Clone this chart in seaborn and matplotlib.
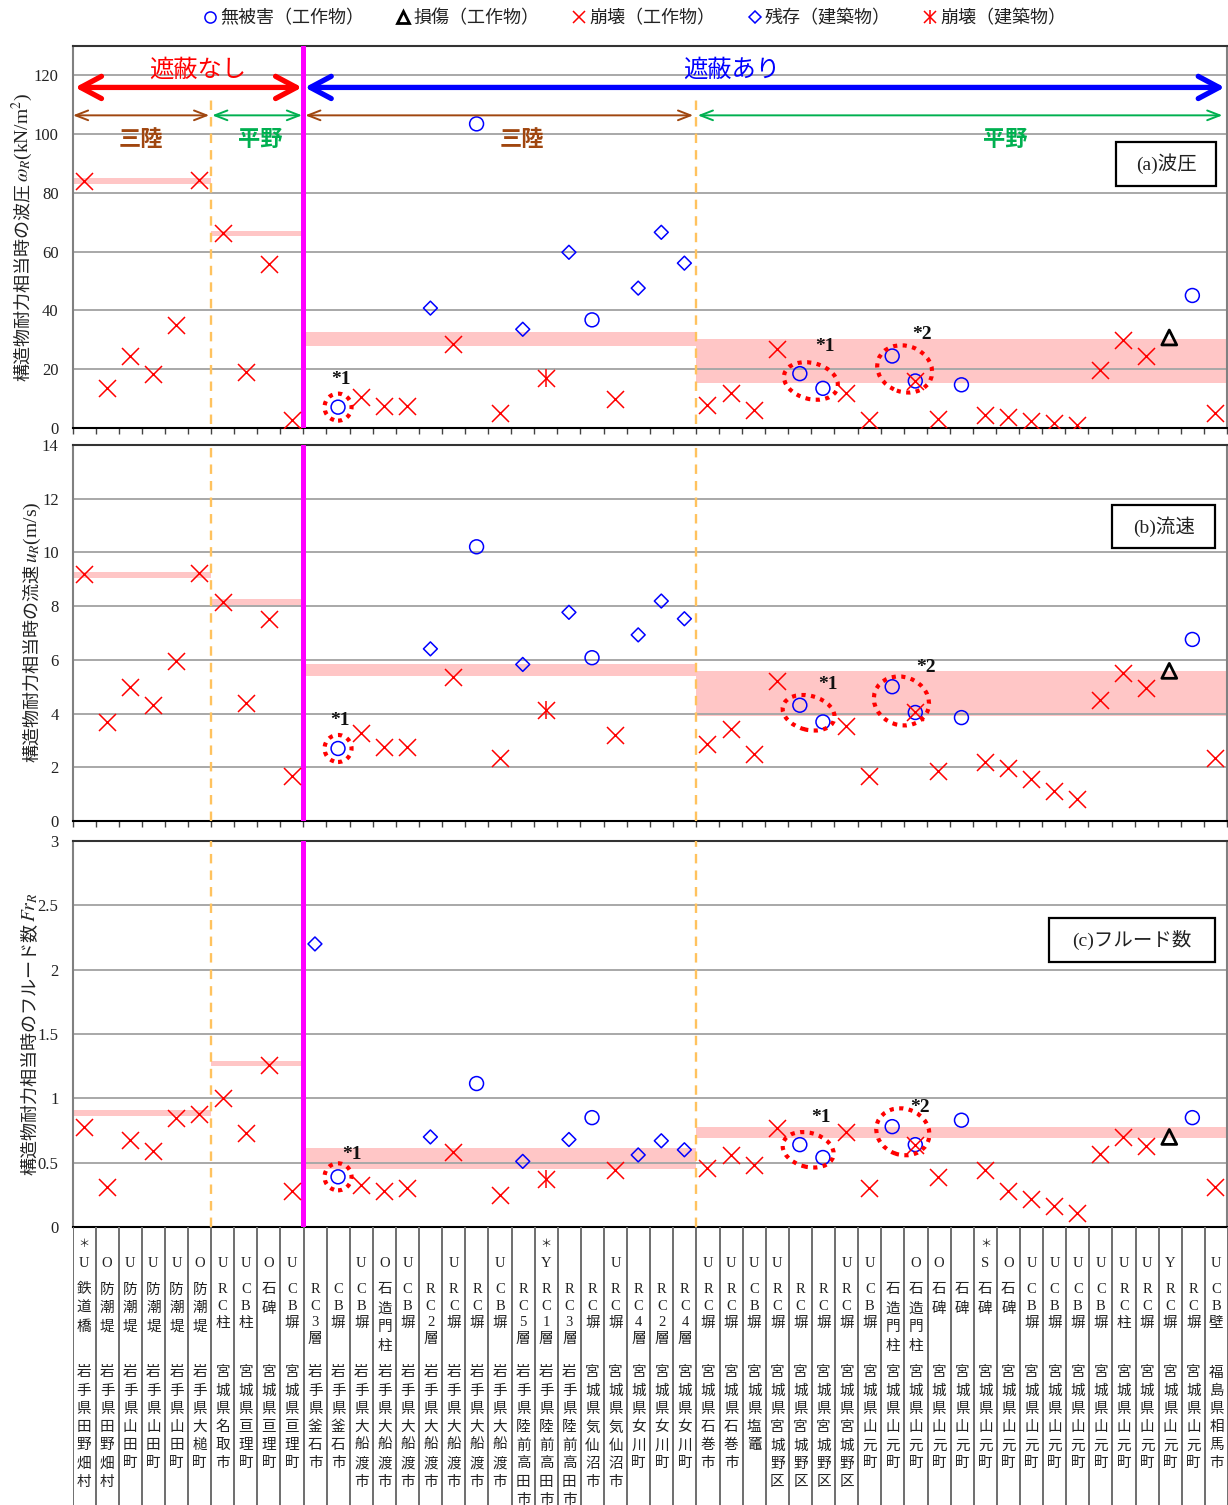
import numpy as np
import pandas as pd
import matplotlib
matplotlib.use("Agg")
import matplotlib.pyplot as plt
import matplotlib.transforms as mtransforms
from matplotlib.patches import Ellipse, Rectangle
from matplotlib.lines import Line2D
import seaborn as sns

# ---------------- data ----------------
positions = list(range(1, 51))

# o: 無被害（工作物）, ^: 損傷（工作物）, x: 崩壊（工作物）, D: 残存（建築物）, *: 崩壊（建築物）
kinds = (["x"] * 10 +
         ["D", "o", "x", "x", "x", "D", "x", "o", "x", "D",
          "*", "D", "o", "x", "D", "D", "D", "x", "x", "x",
          "x", "o", "o", "x", "x", "o", "ox", "x", "o", "x",
          "x", "x", "x", "x", "x", "x", "x", "^", "o", "x"])

wave_pressure = [84.2, 13.5, 24.5, 18.3, 35.1, 84.5, 66.4, 18.9, 55.9, 2.7,
                 np.nan, 7.1, 10.5, 7.5, 7.5, 40.8, 28.6, 103.5, 5.2, 33.6,
                 16.9, 59.8, 36.8, 9.9, 47.6, 66.6, 56.1, 7.8, 11.8, 6.1,
                 26.8, 18.5, 13.5, 12.0, 2.7, 24.5, 16.0, 3.0, 14.7, 4.4,
                 3.7, 2.5, 1.6, 1.0, 19.8, 30.0, 24.5, 30.8, 45.1, 5.2]

velocity = [9.18, 3.67, 5.00, 4.31, 5.96, 9.22, 8.16, 4.38, 7.52, 1.67,
            np.nan, 2.70, 3.29, 2.76, 2.76, 6.41, 5.37, 10.21, 2.33, 5.83,
            4.15, 7.77, 6.08, 3.19, 6.93, 8.19, 7.53, 2.85, 3.44, 2.51,
            5.21, 4.31, 3.69, 3.53, 1.68, 5.00, 4.04, 1.86, 3.85, 2.20,
            1.98, 1.58, 1.12, 0.83, 4.50, 5.52, 4.97, 5.59, 6.76, 2.35]

froude = [0.78, 0.31, 0.68, 0.59, 0.85, 0.88, 1.00, 0.73, 1.26, 0.28,
          2.20, 0.39, 0.33, 0.28, 0.30, 0.70, 0.58, 1.115, 0.25, 0.51,
          0.37, 0.68, 0.85, 0.44, 0.56, 0.67, 0.60, 0.46, 0.56, 0.48,
          0.77, 0.64, 0.54, 0.74, 0.30, 0.78, 0.64, 0.39, 0.83, 0.44,
          0.28, 0.22, 0.16, 0.11, 0.57, 0.70, 0.63, 0.70, 0.85, 0.31]

# resistance ranges per group (columns 1-6, 7-10, 11-27, 28-50)
group_spans = [(0.5, 6.5), (6.5, 10.5), (10.5, 27.5), (27.5, 50.5)]
wave_band_lo = [83.2, 65.2, 28.0, 15.2]
wave_band_hi = [85.1, 66.9, 32.7, 30.2]
vel_band_lo = [9.06, 8.04, 5.40, 3.91]
vel_band_hi = [9.26, 8.25, 5.84, 5.58]
fr_band_lo = [0.863, 1.252, 0.449, 0.69]
fr_band_hi = [0.907, 1.289, 0.617, 0.78]

mark_row = ["＊U", "O", "U", "U", "U", "O", "U", "U", "O", "U",
            "", "", "U", "O", "U", "", "U", "", "U", "",
            "＊Y", "", "", "U", "", "", "", "U", "U", "U",
            "U", "", "", "U", "U", "", "O", "O", "", "＊S",
            "O", "U", "U", "U", "U", "U", "U", "Y", "", "U"]

structure_row = ["鉄道橋", "防潮堤", "防潮堤", "防潮堤", "防潮堤", "防潮堤", "RC柱", "CB柱", "石碑", "CB塀",
                 "RC3層", "CB塀", "CB塀", "石造門柱", "CB塀", "RC2層", "RC塀", "RC塀", "CB塀", "RC5層",
                 "RC1層", "RC3層", "RC塀", "RC塀", "RC4層", "RC2層", "RC4層", "RC塀", "RC塀", "CB塀",
                 "RC塀", "RC塀", "RC塀", "RC塀", "CB塀", "石造門柱", "石造門柱", "石碑", "石碑", "石碑",
                 "石碑", "CB塀", "CB塀", "CB塀", "CB塀", "RC柱", "RC塀", "RC塀", "RC塀", "CB壁"]

place_row = (["岩手県田野畑村"] * 2 + ["岩手県山田町"] * 3 + ["岩手県大槌町", "宮城県名取市"] +
             ["宮城県亘理町"] * 3 + ["岩手県釜石市"] * 2 + ["岩手県大船渡市"] * 7 +
             ["岩手県陸前高田市"] * 3 + ["宮城県気仙沼市"] * 2 + ["宮城県女川町"] * 3 +
             ["宮城県石巻市"] * 2 + ["宮城県塩竈"] + ["宮城県宮城野区"] * 4 +
             ["宮城県山元町"] * 15 + ["福島県相馬市"])

legend_labels = ["無被害（工作物）", "損傷（工作物）", "崩壊（工作物）", "残存（建築物）", "崩壊（建築物）"]

# ---------------- style ----------------
sns.set_theme(style="white")
plt.rcParams["font.family"] = ["Liberation Serif", "Noto Sans CJK JP", "DejaVu Sans"]
plt.rcParams["mathtext.fontset"] = "stix"

RED, BLUE = "#ff0000", "#0000ff"
BAND = "#ffc6c6"
BROWN, GREEN = "#a0460f", "#00b050"
CJK = ["Noto Sans CJK JP", "DejaVu Sans"]
MIX = ["Liberation Serif", "Noto Sans CJK JP", "DejaVu Sans"]
INK = "#222222"

MARKERS = {
    "o": [dict(marker="o", s=100, color=BLUE, facecolor="none", edgecolor=BLUE, linewidth=1.1)],
    "^": [dict(marker="^", s=115, color="black", facecolor="none", edgecolor="black", linewidth=2.0)],
    "x": [dict(marker="x", s=150, color=RED, linewidth=1.1)],
    "D": [dict(marker="D", s=50, color=BLUE, facecolor="none", edgecolor=BLUE, linewidth=1.1)],
    "*": [dict(marker="x", s=150, color=RED, linewidth=1.1),
          dict(marker="|", s=170, color=RED, linewidth=1.1)],
}

DPI = 100
W, H = 1228, 1505
fig = plt.figure(figsize=(W / DPI, H / DPI), dpi=DPI)
fig.patch.set_facecolor("white")


def px_axes(left, top, right, bottom):
    return fig.add_axes([left / W, 1 - bottom / H, (right - left) / W, (bottom - top) / H])


ax_a = px_axes(72.5, 46, 1227, 428)
ax_b = px_axes(72.5, 445, 1227, 821)
ax_c = px_axes(72.5, 841, 1227, 1227)
ax_t = px_axes(72.5, 1227, 1228, 1505)


def long_form(values):
    rows = []
    for p, v, k in zip(positions, values, kinds):
        for code in k:
            rows.append((p, v, code))
    return pd.DataFrame(rows, columns=["pos", "val", "kind"])


def draw_panel(ax, values, lo, hi, ylim, yticks, yticklabels):
    ax.set_facecolor("white")
    for (x0, x1), l, h in zip(group_spans, lo, hi):
        ax.fill_between([x0, x1], l, h, color=BAND, lw=0, zorder=1)
    ax.set_axisbelow("line")
    ax.yaxis.grid(True, color="#a8a8a8", lw=1.4)
    ax.xaxis.grid(False)
    df = long_form(values)
    for code, passes in MARKERS.items():
        sub = df[df["kind"] == code]
        for st in passes:
            sns.scatterplot(data=sub, x="pos", y="val", ax=ax, legend=False, zorder=4, **st)
    ax.set_xlabel("")
    ax.set_ylabel("")
    ax.axvline(10.5, color="#ff00ff", lw=3.6, zorder=3)
    ax.set_xlim(0.5, 50.5)
    ax.set_ylim(*ylim)
    ax.set_yticks(yticks)
    ax.set_yticklabels(yticklabels, family="Liberation Serif", size=12, color=INK)
    ax.set_xticks(np.arange(0.5, 51, 1))
    ax.set_xticklabels([])
    ax.tick_params(axis="y", left=False, length=0, pad=10)
    ax.tick_params(axis="x", bottom=True, length=4, width=1, direction="out", color="#444444")
    for side in ["left", "right", "top"]:
        ax.spines[side].set_color("#808080")
        ax.spines[side].set_linewidth(1.5)
    ax.spines["top"].set_color("#333333")
    ax.spines["bottom"].set_color("black")
    ax.spines["bottom"].set_linewidth(1.5)


draw_panel(ax_a, wave_pressure, wave_band_lo, wave_band_hi, (0, 130),
           list(range(0, 121, 20)), [str(v) for v in range(0, 121, 20)])
draw_panel(ax_b, velocity, vel_band_lo, vel_band_hi, (0, 14),
           list(range(0, 15, 2)), [str(v) for v in range(0, 15, 2)])
draw_panel(ax_c, froude, fr_band_lo, fr_band_hi, (0, 3),
           [0, 0.5, 1, 1.5, 2, 2.5, 3], ["0", "0.5", "1", "1.5", "2", "2.5", "3"])
ax_c.tick_params(axis="x", length=0)

# region dividers
dash = dict(color="#ffc25e", ls=(0, (4, 3)), lw=1.7, zorder=3)
ax_a.axvline(6.5, ymin=0.01, ymax=0.865, **dash)
ax_a.axvline(27.5, ymin=0.01, ymax=0.865, **dash)
for ax in (ax_b, ax_c):
    ax.axvline(6.5, **dash)
    ax.axvline(27.5, **dash)

# shielding / region arrows in panel (a)
def double_arrow(ax, x0, x1, y, color, lw, scale, hl, hw):
    ax.annotate("", xy=(x1, y), xytext=(x0, y),
                arrowprops=dict(arrowstyle=f"<->,head_length={hl},head_width={hw}",
                                color=color, lw=lw, shrinkA=0, shrinkB=0,
                                mutation_scale=scale), zorder=6)

double_arrow(ax_a, 0.61, 10.44, 115.9, RED, 3.8, 20, 0.75, 0.4)
double_arrow(ax_a, 10.56, 50.4, 115.9, BLUE, 3.8, 20, 0.75, 0.4)
double_arrow(ax_a, 0.52, 6.42, 106.4, BROWN, 1.4, 10, 0.9, 0.35)
double_arrow(ax_a, 6.55, 10.44, 106.4, GREEN, 1.4, 10, 0.9, 0.35)
double_arrow(ax_a, 10.58, 27.38, 106.4, BROWN, 1.4, 10, 0.9, 0.35)
double_arrow(ax_a, 27.58, 50.3, 106.4, GREEN, 1.4, 10, 0.9, 0.35)

ax_a.text(5.94, 122, "遮蔽なし", color=RED, size=17.5, ha="center", va="center", family=CJK, zorder=7)
ax_a.text(29.06, 122, "遮蔽あり", color=BLUE, size=17.5, ha="center", va="center", family=CJK, zorder=7)
for x, t, c in [(3.47, "三陸", BROWN), (8.62, "平野", GREEN), (19.97, "三陸", BROWN), (40.9, "平野", GREEN)]:
    ax_a.text(x, 98.2, t, color=c, size=16, weight="bold", ha="center", va="center", family=CJK, zorder=7)

# panel title boxes
def title_box(ax, x0, y0, x1, y1, text):
    ax.add_patch(Rectangle((x0, y0), x1 - x0, y1 - y0, transform=ax.transAxes,
                           facecolor="white", edgecolor="black", lw=1.6, zorder=8))
    ax.text((x0 + x1) / 2, (y0 + y1) / 2, text, transform=ax.transAxes, size=14,
            ha="center", va="center", family=MIX, color=INK, zorder=9)

title_box(ax_a, 0.9039, 0.6335, 0.9905, 0.7487, "(a)波圧")
title_box(ax_b, 0.9007, 0.7253, 0.9898, 0.8404, "(b)流速")
title_box(ax_c, 0.8458, 0.6865, 0.9896, 0.8005, "(c)フルード数")

# dotted rings around noted cases
def dotted_ring(ax, xc, yc, w_px, h_px, angle=0.0):
    tr = fig.dpi_scale_trans + mtransforms.ScaledTranslation(xc, yc, ax.transData)
    ax.add_patch(Ellipse((0, 0), w_px / DPI, h_px / DPI, angle=angle, transform=tr,
                         fill=False, edgecolor=RED, lw=3.0, ls=(0, (1, 1.3)), zorder=5))

def note(ax, x, y, t):
    ax.text(x, y, t, size=14, weight="bold", family="Liberation Serif",
            ha="center", va="center", color="#111111", zorder=7)

dotted_ring(ax_a, 12, 7.1, 27, 27)
dotted_ring(ax_a, 32.48, 16.0, 55, 36, -15)
dotted_ring(ax_a, 36.54, 20.1, 56, 46, -20)
note(ax_a, 12.13, 16.4, "*1")
note(ax_a, 33.1, 27.6, "*1")
note(ax_a, 37.3, 31.7, "*2")

dotted_ring(ax_b, 12, 2.70, 27, 27)
dotted_ring(ax_b, 32.38, 4.03, 53, 34, -15)
dotted_ring(ax_b, 36.4, 4.47, 56, 48, -20)
note(ax_b, 12.08, 3.76, "*1")
note(ax_b, 33.2, 5.07, "*1")
note(ax_b, 37.46, 5.70, "*2")

dotted_ring(ax_c, 12, 0.39, 27, 27)
dotted_ring(ax_c, 32.36, 0.60, 52, 34, -15)
dotted_ring(ax_c, 36.46, 0.74, 54, 46, -20)
note(ax_c, 12.6, 0.56, "*1")
note(ax_c, 32.9, 0.85, "*1")
note(ax_c, 37.2, 0.925, "*2")

# axis titles: Japanese part and symbol part set as two pieces along one baseline
renderer = fig.canvas.get_renderer()


def axis_title(x_center_px, y_center_px, jp, sym, size=13):
    base_x = (x_center_px + 0.33 * size * DPI / 72) / W
    t1 = fig.text(base_x, 0.5, jp, rotation=90, rotation_mode="anchor", ha="left",
                  va="baseline", size=size, family=CJK, color=INK)
    t2 = fig.text(base_x, 0.5, sym, rotation=90, rotation_mode="anchor", ha="left",
                  va="baseline", size=size + 1, family="Liberation Serif", color=INK)
    h1 = t1.get_window_extent(renderer).height
    h2 = t2.get_window_extent(renderer).height
    y0 = (H - y_center_px) - (h1 + h2) / 2
    t1.set_y(y0 / H)
    t2.set_y((y0 + h1 + 1) / H)


axis_title(21.7, 237, "構造物耐力相当時の波圧", r"$\omega_R$(kN/m$^2$)")
axis_title(31, 632, "構造物耐力相当時の流速", r"$u_R$(m/s)")
axis_title(29, 1034, "構造物耐力相当時のフルード数", r"$Fr_R$")

# category table below the plots
ax_t.set_xlim(0.5, 50.5)
ax_t.set_ylim(1505, 1227)
ax_t.axis("off")
ax_t.vlines(np.arange(0.5, 51, 1), 1227, 1505, color="#6e6e6e", lw=1.4)
txt = dict(size=10.5, ha="center", va="center", family=MIX, color=INK, clip_on=True)
for p, m, s, pl in zip(positions, mark_row, structure_row, place_row):
    if m.startswith("＊"):
        ax_t.text(p, 1245, "＊", **{**txt, "size": 8})
        m = m[1:]
    if m:
        ax_t.text(p, 1264, m, **txt)
    y = 1290
    for ch in s:
        ax_t.text(p, y, ch, **txt)
        y += 16.5 if ch.isascii() else 18.8
    y = 1373
    for ch in pl:
        ax_t.text(p, y, ch, **txt)
        y += 18.2

# legend
handles = [
    Line2D([], [], ls="none", marker="o", ms=8, mfc="none", mec=BLUE, mew=1.1),
    Line2D([], [], ls="none", marker="^", ms=8, mfc="none", mec="black", mew=2.0),
    Line2D([], [], ls="none", marker="x", ms=9, mec=RED, mew=1.1),
    Line2D([], [], ls="none", marker="D", ms=6, mfc="none", mec=BLUE, mew=1.1),
    (Line2D([], [], ls="none", marker="x", ms=9, mec=RED, mew=1.1),
     Line2D([], [], ls="none", marker="|", ms=10, mec=RED, mew=1.1)),
]
fig.legend(handles, legend_labels, loc="center", bbox_to_anchor=(634 / W, 1 - 18 / H),
           ncol=5, frameon=False, prop={"family": CJK, "size": 13},
           handletextpad=0.1, columnspacing=1.75, handlelength=0.9, labelcolor=INK)

fig.savefig("out.png", dpi=DPI, facecolor="white")
